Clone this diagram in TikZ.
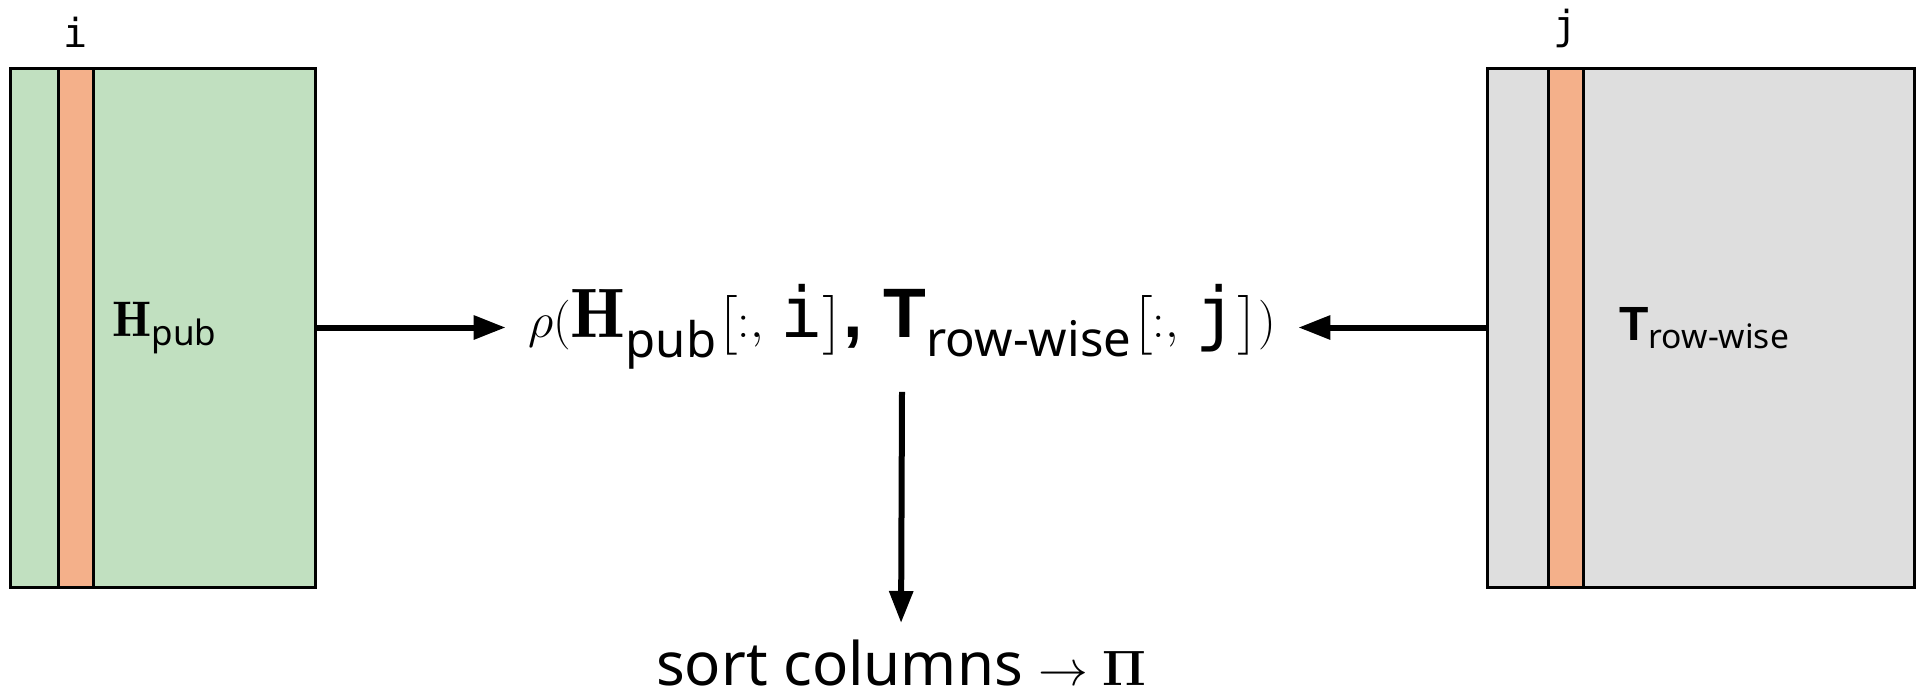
\documentclass[tikz,border=0pt]{standalone}
\usepackage{amsmath}
\usepackage{fontspec}
\setsansfont{Noto Sans}
\newfontfamily\bsans{Liberation Sans}
\setmonofont{DejaVu Sans Mono}
\usetikzlibrary{arrows.meta}
\definecolor{mgreen}{RGB}{193,224,192}
\definecolor{morange}{RGB}{244,176,138}
\definecolor{mgray}{RGB}{222,222,222}
\newcommand{\bT}{{\bsans\bfseries T}}
\tikzset{
  mat/.style={draw=black, line width=1.5pt, inner sep=0pt, minimum height=259.5pt},
  stripe/.style={draw=black, line width=1.5pt, fill=morange, inner sep=0pt, minimum width=17.5pt, minimum height=259.5pt},
  arr/.style={line width=3pt, -{Triangle[length=16pt,width=11.5pt]}},
  idx/.style={font=\fontsize{20}{24}\selectfont\ttfamily, anchor=south, inner sep=0pt},
  lab/.style={font=\fontsize{25}{30}\selectfont, inner sep=0pt}
}
\begin{document}
\begin{tikzpicture}[x=0.5pt,y=-0.5pt]
\useasboundingbox (0,0) rectangle (1917,691);
% left matrix
\node[mat, fill=mgreen, minimum width=152.5pt] (lbox) at (162.5,327.5) {};
\node[stripe] (lstripe) at (75.5,327.5) {};
\node[idx] (ilab) at (75.5,48) {i};
\node[lab, anchor=west] (hlab) at (112,328) {$\mathbf{H}_{\text{\sffamily pub}}$};
% right matrix
\node[mat, fill=mgray, minimum width=213.5pt] (rbox) at (1700.5,327.5) {};
\node[stripe] (rstripe) at (1565.5,327.5) {};
\node[idx] (jlab) at (1565.5,48) {j};
\node[lab, anchor=west, font=\fontsize{24}{29}\selectfont] (tlab) at (1619,328) {\bT$_{\text{\sffamily row-wise}}$};
% formula
\node[font=\fontsize{35}{40}\selectfont, inner sep=11pt] (formula) at (902,327)
  {$\rho(\mathbf{H}_{\text{\sffamily pub}}\big[{:},\,\texttt{i}\big]$\textsf{\bsans\bfseries ,} \bT$_{\text{\sffamily row-wise}}\big[{:},\,\texttt{j}\big])$};
\node[font=\fontsize{30}{36}\selectfont\sffamily, inner sep=0pt, anchor=base] (sortlab) at (901,685)
  {sort columns $\rightarrow \boldsymbol{\Pi}$};
% connectors
\draw[arr] (lbox.east) -- (lbox.east -| formula.west);
\draw[arr] (rbox.west) -- (rbox.west -| formula.east);
\draw[arr, shorten >=8pt] (formula.south) -- (sortlab.north);
\end{tikzpicture}
\end{document}
